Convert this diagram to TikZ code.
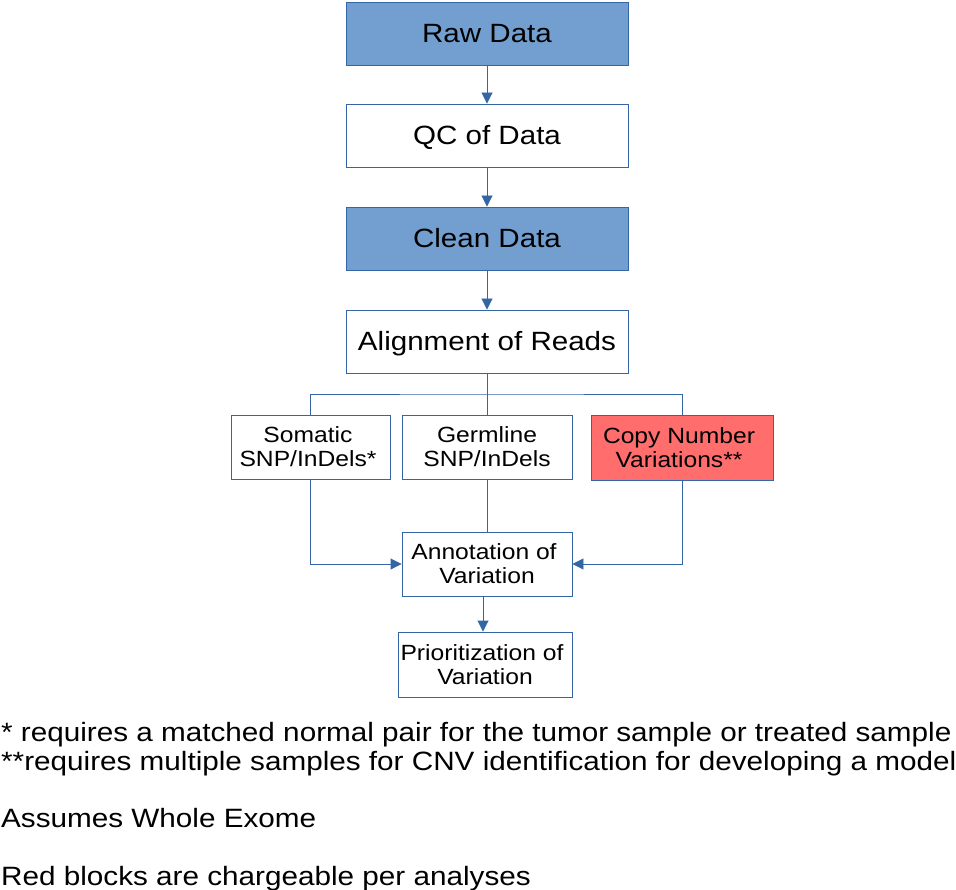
\documentclass[tikz,border=0pt]{standalone}
\usepackage{fontspec}
\setmainfont{Liberation Sans}[FakeStretch=1.12]
\usetikzlibrary{arrows.meta}
\definecolor{lblue}{HTML}{729FCF}
\definecolor{dblue}{HTML}{3465A4}
\definecolor{lred}{HTML}{FF6D6D}
\newcommand{\lowtext}[1]{\raisebox{-2pt}[\height][\depth]{#1}}
\tikzset{
  box/.style={draw=dblue, line width=0.9pt, inner sep=0pt, align=center, text=black},
  bigbox/.style={box, minimum width=282pt, minimum height=63pt, font=\fontsize{26.4}{30}\selectfont},
  smallbox/.style={box, font=\fontsize{22}{24}\selectfont},
  conn/.style={draw=dblue, line width=0.9pt},
  arr/.style={conn, -{Triangle[length=11pt,width=11pt]}},
  note/.style={anchor=base west, inner sep=0pt, font=\fontsize{26.5}{28}\selectfont}
}
\begin{document}
\begin{tikzpicture}[x=1pt,y=-1pt]
\useasboundingbox (0,0) rectangle (956,890);
\node[bigbox, fill=lblue] (raw) at (487,33.5) {\raisebox{-0.5pt}[\height][\depth]{Raw Data}};
\node[bigbox] (qc) at (487,135.5) {\lowtext{QC of Data}};
\node[bigbox, fill=lblue] (clean) at (487,238.5) {Clean Data};
\node[bigbox] (align) at (487,341.5) {\lowtext{Alignment of Reads}};
\node[smallbox, minimum width=159pt, minimum height=64pt] (som) at (310.5,447) {Somatic\kern5pt\\SNP/InDels*\kern5pt};
\node[smallbox, minimum width=170pt, minimum height=64pt] (germ) at (487,447) {Germline\\SNP/InDels};
\node[smallbox, fill=lred, minimum width=182pt, minimum height=65pt] (cnv) at (682,447.5) {Copy Number\kern6pt\\Variations**\kern6pt};
\node[smallbox, minimum width=170pt, minimum height=64pt] (annot) at (487,564) {Annotation of\kern6pt\\Variation};
\node[smallbox, minimum width=174pt, minimum height=65pt] (prio) at (485,664.5) {Prioritization of\kern6pt\\Variation};
\coordinate (split) at (487,394);
\draw[arr] (raw) -- (qc);
\draw[arr] (qc) -- (clean);
\draw[arr] (clean) -- (align);
\draw[conn] (align.south) -- (split);
\draw[conn] (som.north) |- (split) -| (cnv.north);
\draw[conn] (split) -- (germ.north);
\draw[arr] (som.south) |- (annot.west);
\draw[arr] (cnv.south) |- (annot.east);
\draw[conn] (germ.south) -- (annot.north);
\draw[arr] ([xshift=-4pt]annot.south) -- ([xshift=-2pt]prio.north);
\node[note] (n1) at (1,741.5) {* requires a matched normal pair for the tumor sample or treated sample};
\node[note] (n2) at (1,770) {**requires multiple samples for CNV identification for developing a model};
\node[note] (n3) at (1,827) {Assumes Whole Exome};
\node[note] (n4) at (1,885) {Red blocks are chargeable per analyses};
\end{tikzpicture}
\end{document}
